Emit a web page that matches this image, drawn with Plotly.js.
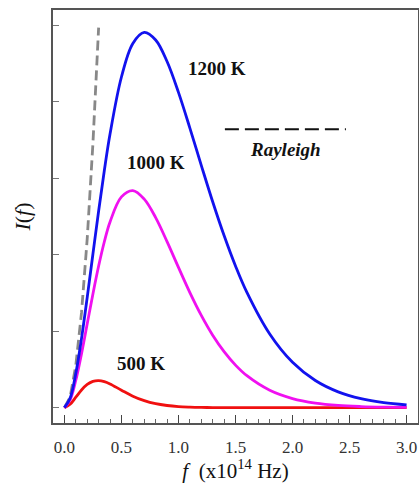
<!DOCTYPE html>
<html>
<head>
<meta charset="utf-8">
<script src="https://cdn.plot.ly/plotly-3.0.1.min.js"></script>
<style>html,body{margin:0;padding:0;background:#fff;}#chart{width:419px;height:483px;}</style>
</head>
<body>
<div id="chart"></div>
<script>
// frequency samples (x10^14 Hz)
const freq = [0, 0.05, 0.1, 0.15, 0.2, 0.25, 0.3, 0.35, 0.4, 0.5, 0.6, 0.7, 0.8, 0.9, 1.0, 1.1, 1.2, 1.3, 1.4, 1.5, 1.6, 1.8, 2.0, 2.2, 2.4, 2.6, 2.8, 3.0];
const i1200 = [0, 0.125, 0.449, 0.907, 1.443, 2.010, 2.572, 3.101, 3.578, 4.324, 4.763, 4.908, 4.808, 4.526, 4.123, 3.656, 3.169, 2.693, 2.251, 1.853, 1.507, 0.963, 0.593, 0.355, 0.207, 0.118, 0.066, 0.037];
const i1000 = [0, 0.102, 0.359, 0.707, 1.097, 1.488, 1.852, 2.170, 2.429, 2.756, 2.839, 2.727, 2.485, 2.171, 1.834, 1.505, 1.207, 0.948, 0.733, 0.557, 0.418, 0.228, 0.120, 0.061, 0.030, 0.015, 0.007, 0.003];
const i500  = [0, 0.045, 0.137, 0.232, 0.304, 0.345, 0.355, 0.341, 0.311, 0.229, 0.151, 0.092, 0.052, 0.029, 0.015, 0.008, 0.004, 0.002, 0.001, 0.0005, 0.0002, 0, 0, 0, 0, 0, 0, 0];
const rayFreq = [0, 0.05, 0.1, 0.15, 0.2, 0.25, 0.3];
const rayleigh = [0, 0.138, 0.553, 1.243, 2.21, 3.453, 4.97];
const labels = ["1200 K", "1000 K", "500 K"];
const xTickVals = [0, 0.5, 1.0, 1.5, 2.0, 2.5, 3.0];
const yTickVals = [0, 1, 2, 3, 4, 5];

const serif = "'Liberation Serif', 'Times New Roman', Times, serif";
const traces = [
  {x: rayFreq, y: rayleigh, mode: "lines", line: {color: "#888888", width: 2.8, dash: "10px,5px"}, hoverinfo: "skip"},
  {x: freq, y: i500, mode: "lines", line: {color: "#f01010", width: 2.8, shape: "spline"}},
  {x: freq, y: i1000, mode: "lines", line: {color: "#f010f0", width: 2.8, shape: "spline"}},
  {x: freq, y: i1200, mode: "lines", line: {color: "#1212ee", width: 2.8, shape: "spline"}}
];

const layout = {
  width: 419, height: 483,
  margin: {l: 53, r: 1, t: 10, b: 60},
  paper_bgcolor: "#fff", plot_bgcolor: "#fff",
  showlegend: false,
  font: {family: serif, color: "#222"},
  xaxis: {
    range: [-0.1, 3.1], showgrid: false, zeroline: false,
    showline: true, mirror: true, linecolor: "#555", linewidth: 2,
    ticks: "inside", ticklen: 8, tickcolor: "#444", tickwidth: 1.3,
    tickvals: xTickVals, tickformat: ".1f",
    tickfont: {family: serif, size: 17, color: "#333"},
    ticklabelstandoff: 8,
    minor: {dtick: 0.1, ticks: "inside", ticklen: 4, tickcolor: "#666", tickwidth: 1},
    title: {text: "<i>f</i>  (x10<sup>14</sup> Hz)", font: {family: serif, size: 21, color: "#111"}, standoff: 13}
  },
  yaxis: {
    range: [-0.2, 5.2], showgrid: false, zeroline: false,
    showline: true, mirror: true, linecolor: "#555", linewidth: 2,
    ticks: "inside", ticklen: 6, tickcolor: "#777", tickwidth: 1,
    tickvals: yTickVals, showticklabels: false,
    title: {text: "<i>I</i>(<i>f</i>)", font: {family: serif, size: 22, color: "#111"}, standoff: 14}
  },
  shapes: [
    {type: "line", xref: "x", yref: "y", x0: 1.407, x1: 2.468, y0: 3.64, y1: 3.64, line: {color: "#111", width: 2, dash: "14px,6px"}}
  ],
  annotations: [
    {x: 1.337, y: 4.44, text: "<b>" + labels[0] + "</b>", showarrow: false, font: {family: serif, size: 19, color: "#111"}},
    {x: 0.80, y: 3.20, text: "<b>" + labels[1] + "</b>", showarrow: false, font: {family: serif, size: 19, color: "#111"}},
    {x: 0.67, y: 0.574, text: "<b>" + labels[2] + "</b>", showarrow: false, font: {family: serif, size: 19, color: "#111"}},
    {x: 1.94, y: 3.37, text: "<b><i>Rayleigh</i></b>", showarrow: false, font: {family: serif, size: 19, color: "#111"}}
  ]
};

Plotly.newPlot("chart", traces, layout, {displayModeBar: false, staticPlot: true});
</script>
</body>
</html>
